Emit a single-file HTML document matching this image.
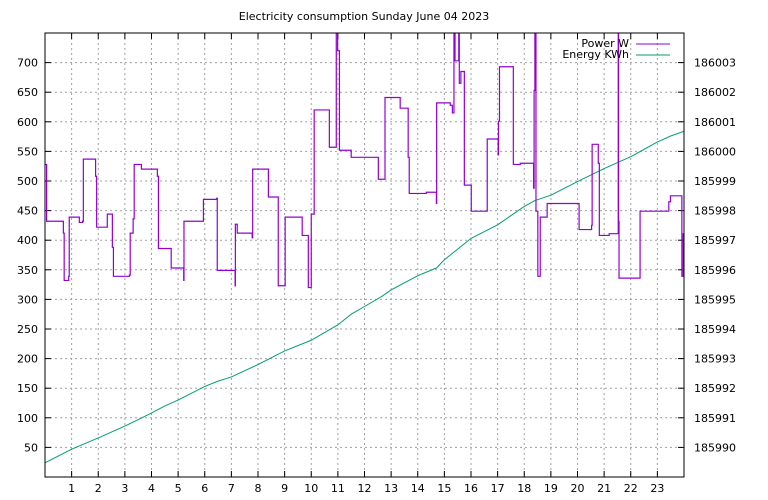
<!DOCTYPE html>
<html><head><meta charset="utf-8"><style>
body{margin:0;background:#fff}
svg{display:block;font-family:"DejaVu Sans","Liberation Sans",sans-serif;font-size:11px}
</style></head><body>
<svg id="chart" width="768" height="500" xmlns="http://www.w3.org/2000/svg">
<defs><clipPath id="clip"><rect x="45" y="33" width="639" height="444"/></clipPath></defs>
<rect width="768" height="500" fill="#fff"/>
<text x="364" y="20" text-anchor="middle">Electricity consumption Sunday June 04 2023</text>
<g id="grid"></g><g id="axes"></g>
<g clip-path="url(#clip)" id="series"></g>
<rect x="45" y="33" width="639" height="444" fill="none" stroke="#000" stroke-width="1"/>
<g>
<text x="629" y="47" text-anchor="end">Power W</text>
<line x1="636" y1="44" x2="670" y2="44" stroke="#9400d3"/>
<text x="629" y="58" text-anchor="end">Energy KWh</text>
<line x1="636" y1="55" x2="670" y2="55" stroke="#009e73"/>
</g>
</svg>
<script>
const powerTimes=[0,0.06,0.69,0.72,0.89,0.91,1.29,1.41,1.44,1.90,1.94,2.34,2.53,2.57,3.17,3.20,3.31,3.35,3.62,4.22,4.26,4.74,5.21,5.22,5.95,6.45,6.47,7.14,7.15,7.22,7.78,7.80,8.39,8.76,9.02,9.66,9.89,10.0,10.11,10.68,10.94,10.99,11.06,11.50,12.52,12.77,13.34,13.64,13.68,14.32,14.70,14.71,15.22,15.30,15.36,15.40,15.54,15.56,15.62,15.75,16.01,16.61,17.02,17.03,17.07,17.59,17.85,18.35,18.37,18.40,18.44,18.51,18.60,18.86,20.06,20.53,20.55,20.78,20.82,21.19,21.53,21.54,21.56,21.98,22.35,23.43,23.49,23.92,23.97];
const powerValues=[528,432,412,332,339,439,430,432,537,508,422,444,388,339,341,412,436,528,520,508,386,353,332,432,469,471,349,323,427,412,404,520,473,323,439,408,320,444,620,557,750,720,552,540,503,641,623,540,479,481,462,632,628,615,750,703,750,665,685,493,449,571,544,601,693,528,530,488,653,750,449,339,439,462,418,425,562,530,408,411,750,432,336,336,449,465,475,339,411];
const energyHours=[0,1,2,3,4,4.5,5,6,6.5,7,8,9,10,11,11.5,12,12.65,13,14,14.7,15,15.5,16,17,18,18.4,19,20,21,22,23,23.5,24];
const energyKWh=[185989.48,185989.94,185990.32,185990.72,185991.16,185991.40,185991.60,185992.06,185992.24,185992.38,185992.80,185993.26,185993.62,185994.14,185994.50,185994.76,185995.10,185995.32,185995.80,185996.06,185996.34,185996.70,185997.06,185997.52,185998.14,185998.34,185998.52,185998.98,185999.42,185999.82,186000.32,186000.52,186000.68];
const yTicks=[50,100,150,200,250,300,350,400,450,500,550,600,650,700];
const y2Ticks=[185990,185991,185992,185993,185994,185995,185996,185997,185998,185999,186000,186001,186002,186003];
const xTicks=[1,2,3,4,5,6,7,8,9,10,11,12,13,14,15,16,17,18,19,20,21,22,23];
const L=45,R=684,T=33,B=477;
const x=h=>L+(R-L)*h/24;
const y=v=>B-(B-T)*v/750;
const y2=e=>B-(B-T)*(e-185989)/15;
const NS="http://www.w3.org/2000/svg";
function mk(tag,attrs,parent){const e=document.createElementNS(NS,tag);for(const k in attrs)e.setAttribute(k,attrs[k]);parent.appendChild(e);return e;}
const grid=document.getElementById('grid'),axes=document.getElementById('axes'),series=document.getElementById('series');
yTicks.forEach(v=>{
 const g=mk('line',{x1:L,x2:R,y1:y(v),y2:y(v),stroke:'#a0a0a0','stroke-dasharray':'2,3'},grid);
 
 
 mk('line',{x1:L,x2:L+6,y1:y(v),y2:y(v),stroke:'#000'},axes);
 const t=mk('text',{x:L-7,y:y(v)+4,'text-anchor':'end'},axes);t.textContent=v;
 
 
});
y2Ticks.forEach(e=>{
 mk('line',{x1:R-6,x2:R,y1:y2(e),y2:y2(e),stroke:'#000'},axes);
 const t=mk('text',{x:R+10,y:y2(e)+4},axes);t.textContent=e;
 
 
});
xTicks.forEach(h=>{
 const g=mk('line',{x1:x(h),x2:x(h),y1:T,y2:B,stroke:'#a0a0a0','stroke-dasharray':'2,3'},grid);
 
 
 mk('line',{x1:x(h),x2:x(h),y1:B-6,y2:B,stroke:'#000'},axes);
 mk('line',{x1:x(h),x2:x(h),y1:T,y2:T+6,stroke:'#000'},axes);
 const t=mk('text',{x:x(h),y:B+15,'text-anchor':'middle'},axes);t.textContent=h;
 
 
});
let d='M'+x(energyHours[0])+' '+y2(energyKWh[0]);
for(let i=1;i<energyHours.length;i++)d+=' L'+x(energyHours[i]).toFixed(2)+' '+y2(energyKWh[i]).toFixed(2);
const ep=mk('path',{d:d,fill:'none',stroke:'#009e73','stroke-width':1},series);


let p='M'+x(powerTimes[0])+' '+y(powerValues[0]);
for(let i=1;i<powerTimes.length;i++)p+=' H'+x(powerTimes[i]).toFixed(2)+' V'+y(powerValues[i]).toFixed(2);
p+=' H'+x(24);
const pp=mk('path',{d:p,fill:'none',stroke:'#9400d3','stroke-width':1.2},series);


</script>
</body></html>
